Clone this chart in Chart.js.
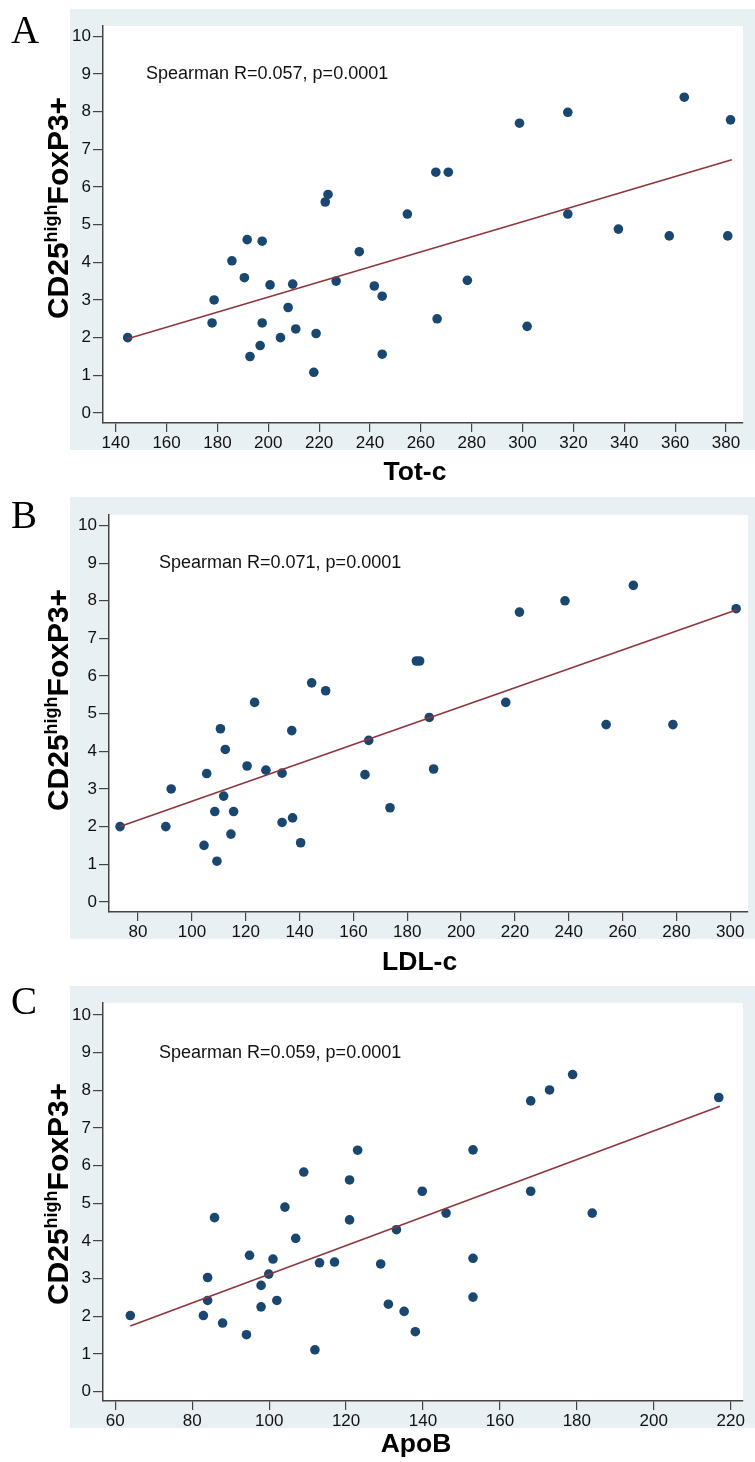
<!DOCTYPE html>
<html>
<head>
<meta charset="utf-8">
<title>CD25high FoxP3+ vs Tot-c, LDL-c, ApoB</title>
<script src="https://cdn.jsdelivr.net/npm/chart.js@4.4.1/dist/chart.umd.min.js"></script>
<style>
  body { margin: 0; background: #fff; }
  .panel { position: absolute; left: 0; width: 755px; }
  canvas { display: block; }
</style>
</head>
<body>
<div class="panel" style="top:0px"><canvas id="chartA" width="755" height="490"></canvas></div>
<div class="panel" style="top:490px"><canvas id="chartB" width="755" height="490"></canvas></div>
<div class="panel" style="top:980px"><canvas id="chartC" width="755" height="482"></canvas></div>
<script>
// y values are CD25high FoxP3+ (%)
const yTicks = [0, 1, 2, 3, 4, 5, 6, 7, 8, 9, 10];

// A: total cholesterol
const totcTicks = [140, 160, 180, 200, 220, 240, 260, 280, 300, 320, 340, 360, 380];
const totcX = [144.7, 178.7, 177.9, 185.7, 190.6, 192.8, 196.8, 197.6, 200.7, 204.8, 207.8, 209.6, 210.8,
  217.9, 218.8, 226.7, 235.8, 241.7, 244.8, 244.8, 191.7, 197.6, 222.4, 223.5, 254.7, 265.9, 270.8,
  298.8, 317.8, 317.8, 337.7, 357.7, 363.6, 381.8, 380.7, 266.4, 278.3, 301.8];
const totcY = [2.0, 3.0, 2.39, 4.04, 3.59, 1.5, 1.79, 2.39, 3.4, 2.0, 2.8, 3.42, 2.23,
  1.08, 2.11, 3.5, 4.28, 3.37, 3.1, 1.56, 4.6, 4.56, 5.6, 5.8, 5.28, 6.39, 6.39,
  7.69, 7.98, 5.28, 4.88, 4.7, 8.38, 7.78, 4.7, 2.5, 3.52, 2.3];
const totcFitX = [144.7, 382.3];
const totcFitY = [1.97, 6.72];

// B: LDL cholesterol
const ldlTicks = [80, 100, 120, 140, 160, 180, 200, 220, 240, 260, 280, 300];
const ldlX = [73.3, 92.3, 90.3, 110.6, 112.4, 105.5, 111.8, 108.5, 115.5, 104.5, 114.5, 109.3,
  123.3, 120.5, 127.5, 133.5, 137.1, 133.5, 137.4, 140.4, 165.7, 164.3, 173.6, 144.5, 149.7,
  183.4, 184.6, 188.2, 189.8, 216.6, 221.7, 238.6, 253.9, 264.0, 278.7, 302.2];
const ldlY = [2.0, 3.0, 2.0, 4.6, 4.05, 3.41, 2.81, 2.4, 2.4, 1.5, 1.8, 1.08,
  5.3, 3.61, 3.5, 3.42, 4.55, 2.11, 2.23, 1.57, 4.29, 3.38, 2.5, 5.82, 5.61,
  6.4, 6.4, 4.9, 3.53, 5.3, 7.7, 8.0, 4.71, 8.41, 4.71, 7.79];
const ldlFitX = [73.3, 302.5];
const ldlFitY = [2.0, 7.76];

// C: apolipoprotein B
const apobTicks = [60, 80, 100, 120, 140, 160, 180, 200, 220];
const apobX = [63.9, 82.9, 84.0, 84.0, 87.9, 94.1, 94.9, 97.9, 97.9, 99.9, 101.0, 102.0, 106.9,
  111.9, 113.1, 117.0, 129.0, 131.0, 133.1, 135.1, 138.0, 85.8, 104.1, 109.0, 120.9, 120.9,
  123.0, 139.8, 146.0, 153.0, 153.0, 153.0, 168.0, 168.0, 172.9, 178.9, 184.0, 216.9];
const apobY = [2.02, 2.02, 3.03, 2.42, 1.82, 1.51, 3.62, 2.82, 2.25, 3.12, 3.52, 2.42, 4.07,
  1.11, 3.42, 3.44, 3.39, 2.32, 4.3, 2.13, 1.59, 4.62, 4.9, 5.83, 5.62, 4.56,
  6.41, 5.32, 4.74, 6.42, 3.54, 2.51, 7.72, 5.32, 8.01, 8.42, 4.74, 7.81];
const apobFitX = [63.9, 217.2];
const apobFitY = [1.74, 7.58];

const SANS = '"Liberation Sans", Arial, Helvetica, sans-serif';
const SERIF = '"Liberation Serif", "Times New Roman", serif';
const BG = '#e9f0f3';
const NAVY = '#1a476f';
const MAROON = '#90353b';

Chart.defaults.font.family = SANS;

const toPts = (xs, ys) => xs.map((x, i) => ({ x: x, y: ys[i] }));

// background, panel letter, titles and the Spearman note
const stataFrame = {
  id: 'stataFrame',
  beforeDraw(chart, args, o) {
    const { ctx, chartArea: a } = chart;
    ctx.save();
    ctx.fillStyle = '#fff';
    ctx.fillRect(0, 0, chart.width, chart.height);
    ctx.fillStyle = BG;
    ctx.fillRect(70, o.grayTop, chart.width - 70, o.grayBottom - o.grayTop);
    ctx.fillStyle = '#fff';
    ctx.fillRect(a.left, a.top, a.right - a.left, a.bottom - a.top);
    ctx.restore();
  },
  afterDraw(chart, args, o) {
    const { ctx } = chart;
    ctx.save();
    ctx.fillStyle = '#000';
    ctx.textBaseline = 'alphabetic';

    ctx.font = '39px ' + SERIF;
    ctx.textAlign = 'left';
    ctx.fillText(o.letter, 11, o.letterY);

    ctx.font = 'bold 26.5px ' + SANS;
    ctx.textAlign = 'center';
    ctx.fillText(o.xTitle, o.xTitleX, o.xTitleY);

    // y title with superscript
    ctx.translate(68, o.yTitleY);
    ctx.rotate(-Math.PI / 2);
    const big = 'bold 30px ' + SANS, small = 'bold 18px ' + SANS;
    ctx.font = big; const w1 = ctx.measureText('CD25').width;
    ctx.font = small; const w2 = ctx.measureText('high').width;
    ctx.font = big; const w3 = ctx.measureText('FoxP3+').width;
    let x0 = -(w1 + w2 + w3) / 2;
    ctx.textAlign = 'left';
    ctx.font = big; ctx.fillText('CD25', x0, 0);
    ctx.font = small; ctx.fillText('high', x0 + w1, -11);
    ctx.font = big; ctx.fillText('FoxP3+', x0 + w1 + w2, 0);
    ctx.restore();

    ctx.save();
    ctx.fillStyle = '#111';
    ctx.font = '18px ' + SANS;
    ctx.textAlign = 'left';
    ctx.textBaseline = 'middle';
    ctx.fillText(o.note, o.noteX, chart.scales.y.getPixelForValue(9));
    ctx.restore();
  }
};

function makePanel(id, p) {
  const H = document.getElementById(id).height;
  return new Chart(document.getElementById(id), {
    type: 'scatter',
    data: {
      datasets: [
        {
          data: toPts(p.fitX, p.fitY),
          showLine: true,
          borderColor: MAROON,
          borderWidth: 1.6,
          pointRadius: 0,
          fill: false
        },
        {
          data: toPts(p.xs, p.ys),
          pointRadius: 4.8,
          pointBackgroundColor: NAVY,
          pointBorderWidth: 0,
          borderWidth: 0
        }
      ]
    },
    options: {
      responsive: false,
      animation: false,
      layout: { padding: { left: 0, top: p.top, right: 755 - p.right, bottom: 0 } },
      plugins: {
        legend: { display: false },
        tooltip: { enabled: false },
        stataFrame: p.frame
      },
      scales: {
        x: {
          type: 'linear',
          min: p.xMin, max: p.xMax,
          afterBuildTicks: s => { s.ticks = p.xTicks.map(v => ({ value: v })); },
          afterFit: s => { s.height = H - p.bottom; },
          grid: { display: true, drawOnChartArea: false, drawTicks: true, tickLength: 9, color: '#444', lineWidth: 1.2 },
          border: { display: true, color: '#444', width: 1.5 },
          ticks: { font: { size: 17 }, color: '#111', padding: 1, maxRotation: 0, autoSkip: false }
        },
        y: {
          type: 'linear',
          min: p.yMin, max: p.yMax,
          afterBuildTicks: s => { s.ticks = yTicks.map(v => ({ value: v })); },
          afterFit: s => { s.width = p.left; },
          grid: { display: true, drawOnChartArea: false, drawTicks: true, tickLength: 10, color: '#444', lineWidth: 1.2 },
          border: { display: true, color: '#444', width: 1.5 },
          ticks: { font: { size: 17 }, color: '#111', padding: 2, autoSkip: false }
        }
      }
    },
    plugins: [stataFrame]
  });
}

makePanel('chartA', {
  xs: totcX, ys: totcY, fitX: totcFitX, fitY: totcFitY, xTicks: totcTicks,
  xMin: 135, xMax: 386.7, yMin: -0.265, yMax: 10.27,
  left: 103, right: 743, top: 26, bottom: 423,
  frame: { grayTop: 9, grayBottom: 450, letter: 'A', letterY: 43, xTitle: 'Tot-c', xTitleX: 415, xTitleY: 480,
    yTitleY: 208, note: 'Spearman R=0.057, p=0.0001', noteX: 146 }
});

makePanel('chartB', {
  xs: ldlX, ys: ldlY, fitX: ldlFitX, fitY: ldlFitY, xTicks: ldlTicks,
  xMin: 69.2, xMax: 306.6, yMin: -0.27, yMax: 10.28,
  left: 109, right: 748, top: 25, bottom: 422,
  frame: { grayTop: 7, grayBottom: 449, letter: 'B', letterY: 38, xTitle: 'LDL-c', xTitleX: 419.6, xTitleY: 480,
    yTitleY: 210, note: 'Spearman R=0.071, p=0.0001', noteX: 159 }
});

makePanel('chartC', {
  xs: apobX, ys: apobY, fitX: apobFitX, fitY: apobFitY, xTicks: apobTicks,
  xMin: 56.8, xMax: 223.2, yMin: -0.25, yMax: 10.32,
  left: 103, right: 743, top: 23, bottom: 421,
  frame: { grayTop: 6, grayBottom: 448, letter: 'C', letterY: 34, xTitle: 'ApoB', xTitleX: 416, xTitleY: 471.7,
    yTitleY: 214, note: 'Spearman R=0.059, p=0.0001', noteX: 159 }
});
</script>
</body>
</html>
